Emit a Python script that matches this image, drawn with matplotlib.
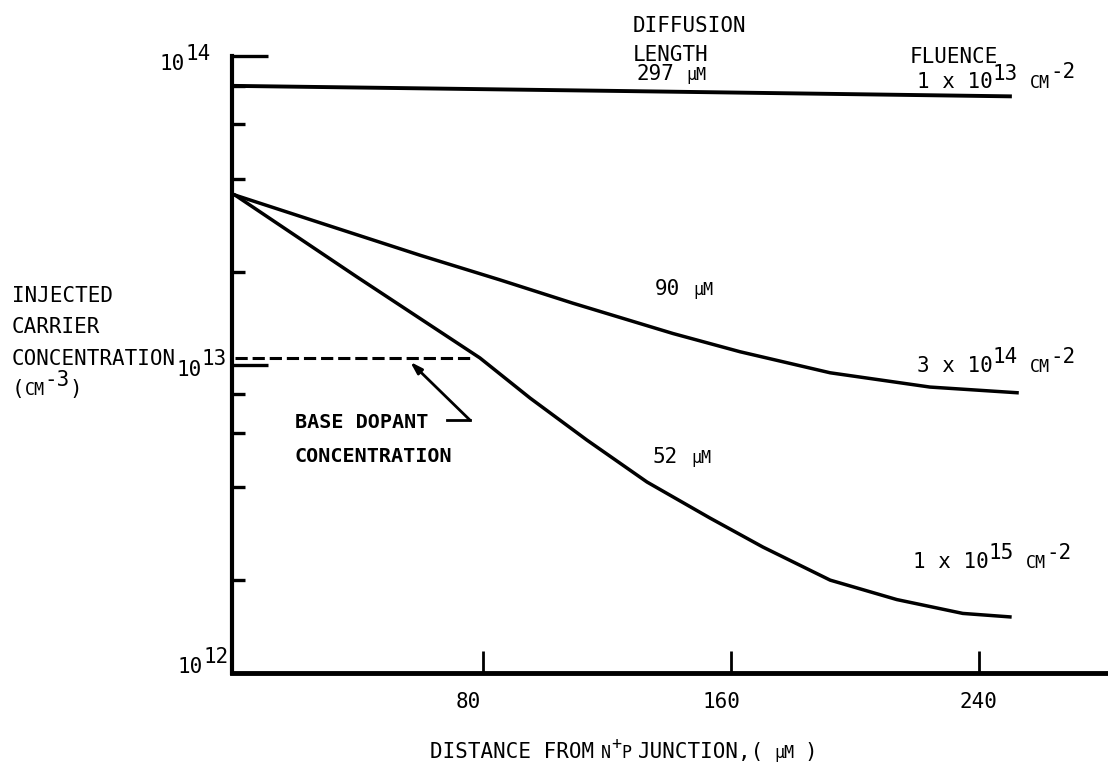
import matplotlib
matplotlib.use('Agg')
import matplotlib.pyplot as plt
from matplotlib.transforms import ScaledTranslation

# Injected carrier concentration vs distance from the n+p junction,
# one curve per fluence (diffusion length in µm).
DIST_297 = [0, 125, 250]
CONC_297 = [8.0e13, 7.7e13, 7.4e13]

DIST_90 = [0, 27.4, 59.7, 85.5, 109, 141.3, 162.9, 192, 224.2, 252.3]
CONC_90 = [3.54e13, 2.88e13, 2.26e13, 1.88e13, 1.58e13, 1.26e13, 1.10e13,
           9.4e12, 8.45e12, 8.1e12]

DIST_52 = [0, 39.4, 79, 95.2, 113.5, 132.9, 153.2, 170.3, 192, 213.5,
           234.8, 250]
CONC_52 = [3.54e13, 1.92e13, 1.05e13, 7.78e12, 5.69e12, 4.16e12, 3.18e12,
           2.56e12, 2.0e12, 1.73e12, 1.56e12, 1.52e12]

BASE_DOPANT = 1.05e13
BASE_DOPANT_END = 76

X_TICKS = [80, 160, 240]
Y_MINOR = [2e12, 4e12, 6e12, 8e12, 2e13, 4e13, 6e13, 8e13]

MONO = 'DejaVu Sans Mono'
plt.rcParams['font.family'] = [MONO, 'DejaVu Sans']

W, H = 1108, 774
S = 15      # main lettering
s = 12      # small capitals (cm, µm)

fig = plt.figure(figsize=(W / 100, H / 100), dpi=100)
fig.patch.set_facecolor('white')
ax = fig.add_axes([232 / W, 1 - 673 / H, (1106 - 232) / W, (673 - 56) / H])


def put(x, y, parts, **kw):
    """Write text pieces left to right. x, y in pixels from the top left,
    y on the baseline. Each part: (text, size[, rise[, gap before]])."""
    r = fig.canvas.get_renderer()
    for part in parts:
        text, size = part[0], part[1]
        rise = part[2] if len(part) > 2 else 0
        x += part[3] if len(part) > 3 else 0
        t = fig.text(x / W, 1 - (y - rise) / H, text, fontsize=size,
                     ha='left', va='baseline', **kw)
        x += t.get_window_extent(r).width
    return x


ax.plot(DIST_297, CONC_297, color='black', lw=2.8)
ax.plot(DIST_90, CONC_90, color='black', lw=2.5)
ax.plot(DIST_52, CONC_52, color='black', lw=2.5)
ax.plot([0, BASE_DOPANT_END], [BASE_DOPANT, BASE_DOPANT], color='black',
        lw=2.2, linestyle=(0, (4, 1.6)))

# pointer from the base dopant note up to the dashed line
ax.plot([68.4, 75.8], [6.6e12, 6.6e12], color='black', lw=2)
ax.annotate('', xy=(56.5, 1.02e13), xytext=(75.8, 6.6e12),
            arrowprops=dict(arrowstyle='-|>,head_length=0.7,head_width=0.22',
                            color='black', lw=2, shrinkA=0, shrinkB=0))

ax.set_yscale('log')
ax.set_ylim(1e12, 1e14)
ax.set_xlim(-1, 281)

ax.set_xticks(X_TICKS)
ax.set_xticklabels([str(v) for v in X_TICKS])
ax.set_yticks([1e13, 1e14])
ax.set_yticks(Y_MINOR, minor=True)
ax.yaxis.set_major_formatter(plt.NullFormatter())
ax.yaxis.set_minor_formatter(plt.NullFormatter())

ax.tick_params(axis='x', direction='in', length=16, width=2,
               labelsize=S, pad=14)
ax.tick_params(axis='y', which='major', direction='in', length=26, width=2.4)
ax.tick_params(axis='y', which='minor', direction='in', length=9.5, width=2.4)

# the typed tick numbers sit a little left of their ticks
for lab, dx in zip(ax.get_xticklabels(), [-15, -10, 0]):
    lab.set_transform(lab.get_transform()
                      + ScaledTranslation(dx / 100, 0, fig.dpi_scale_trans))

for side in ('top', 'right'):
    ax.spines[side].set_visible(False)
ax.spines['left'].set_linewidth(3)
ax.spines['bottom'].set_linewidth(3.5)

# y decade labels
put(160, 70, [('10', S), ('14', S, 10)])
put(178, 673, [('10', S), ('12', S, 10)])

# y axis title, with the 10^13 decade label tucked after it
put(12, 302, [('INJECTED', S)])
put(12, 333, [('CARRIER', S)])
put(12, 365, [('CONCENTRATION', S), ('10', S, -11), ('13', S, 0)])
put(12, 395, [('(', S), ('CM', s), ('-3', S, 9), (')', S)])

# column headings
put(633, 32, [('DIFFUSION', S)])
put(633, 61, [('LENGTH', S)])
put(636, 80, [('297', S), ('µM', s, 0, 12)])
put(910, 63, [('FLUENCE', S)])
put(917, 88, [('1 x 10', S), ('13', S, 8), ('CM', s, 0, 12), ('-2', S, 10)])

# curve labels
put(655, 295, [('90', S), ('µM', s, 0, 13)])
put(653, 463, [('52', S), ('µM', s, 0, 13)])
put(917, 372, [('3 x 10', S), ('14', S, 9), ('CM', s, 0, 12), ('-2', S, 9)])
put(913, 568, [('1 x 10', S), ('15', S, 9), ('CM', s, 0, 12), ('-2', S, 9)])

put(295, 428, [('BASE DOPANT', 14.5)], fontweight='bold')
put(295, 462, [('CONCENTRATION', 14.5)], fontweight='bold')

# x axis title
put(430, 758, [('DISTANCE FROM', S), ('N', s, 0, 7), ('+', s, 9), ('P', s),
               ('JUNCTION,(', S, 0, 7), ('µM', s, 0, 10), (')', S, 0, 10)])

fig.savefig('out.png', dpi=100, facecolor='white')
